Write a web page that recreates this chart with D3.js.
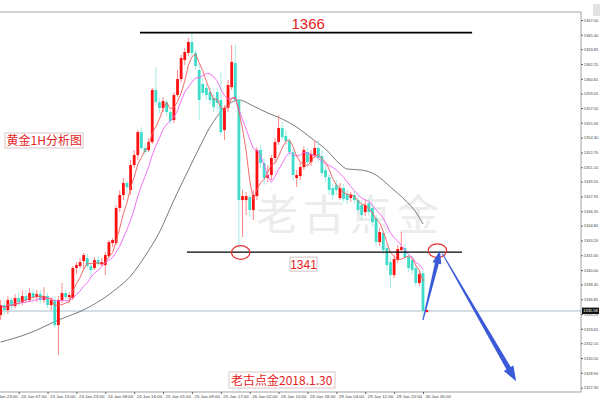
<!DOCTYPE html>
<html>
<head>
<meta charset="utf-8">
<script src="https://cdn.jsdelivr.net/npm/d3@7"></script>
<style>
  body { margin: 0; background: #fff; }
  svg { display: block; }
  .tick text { font-family: "Liberation Sans", Arial, sans-serif; }
</style>
</head>
<body>
<svg id="chart"></svg>
<script>
// gold 1H candles, bar index 0..117
const opens = [
  1335.14,1336.22,1335.68,1336.76,1336.11,1336.98,1336.54,1337.19,1336.76,1337.52,
  1337.08,1337.41,1336.76,1337.19,1336.22,1336.76,1334.06,1336.76,1337.52,1337.08,
  1336.98,1340.22,1340.43,1340.97,1341.30,1340.43,1340.22,1341.08,1340.65,1340.54,
  1341.51,1342.92,1342.92,1346.70,1348.10,1349.40,1348.64,1351.34,1352.42,1354.90,
  1353.18,1352.96,1353.82,1359.44,1358.14,1357.50,1358.14,1357.06,1356.20,1358.90,
  1360.63,1362.68,1363.44,1364.62,1363.44,1361.60,1360.09,1359.66,1359.22,1358.58,
  1359.22,1358.36,1355.12,1357.50,1359.76,1362.36,1358.36,1347.56,1347.56,1347.88,
  1346.48,1347.99,1352.96,1351.56,1349.94,1350.26,1352.10,1353.82,1355.34,1354.47,
  1353.93,1352.74,1349.94,1350.15,1351.12,1352.74,1351.66,1352.42,1353.18,1352.31,
  1350.80,1350.04,1348.86,1349.18,1347.78,1348.86,1348.21,1347.78,1348.10,1347.56,
  1347.02,1346.26,1347.24,1346.70,1345.62,1343.02,1344.00,1342.38,1340.86,1339.46,
  1341.08,1342.16,1342.38,1341.40,1341.08,1340.22,1338.60,1339.68
];
const highs = [
  1336.76,1336.76,1337.19,1337.08,1337.41,1337.62,1337.84,1337.84,1338.06,1337.95,
  1337.84,1337.84,1338.16,1337.52,1337.08,1337.08,1337.19,1338.60,1337.84,1337.62,
  1340.43,1340.86,1341.30,1341.84,1341.73,1340.86,1341.40,1341.51,1341.30,1341.94,
  1343.25,1343.46,1347.02,1348.64,1349.94,1349.72,1351.88,1352.96,1355.12,1355.44,
  1353.61,1354.26,1359.66,1361.92,1358.58,1358.68,1358.47,1357.28,1359.22,1361.60,
  1363.22,1363.98,1365.06,1365.70,1363.76,1362.25,1360.74,1360.09,1359.66,1359.01,
  1359.66,1361.38,1357.82,1360.52,1364.30,1364.30,1358.58,1348.64,1348.42,1348.10,
  1348.64,1353.28,1353.50,1352.10,1351.34,1352.42,1354.26,1356.74,1355.98,1355.12,
  1354.26,1353.18,1350.80,1351.56,1353.39,1353.18,1352.96,1354.04,1354.04,1352.96,
  1351.34,1350.37,1349.29,1349.72,1349.40,1349.29,1348.64,1348.42,1348.53,1347.99,
  1347.56,1347.56,1347.78,1347.02,1345.94,1344.54,1344.32,1342.81,1341.30,1341.62,
  1342.70,1344.10,1342.81,1341.73,1341.51,1340.54,1340.00,1340.00
];
const lows = [
  1334.60,1335.14,1335.25,1335.68,1335.90,1336.11,1336.22,1336.44,1336.54,1336.76,
  1336.54,1336.33,1336.44,1335.90,1335.68,1333.74,1330.82,1336.44,1336.76,1336.54,
  1336.76,1339.57,1340.22,1340.00,1340.22,1339.24,1340.00,1340.43,1340.43,1339.46,
  1341.30,1342.48,1342.70,1346.26,1347.56,1348.42,1348.10,1351.02,1351.88,1352.96,
  1352.42,1352.74,1353.61,1357.82,1356.96,1357.06,1356.63,1355.77,1355.88,1358.68,
  1360.30,1362.14,1363.11,1363.11,1361.60,1356.20,1358.79,1358.36,1357.93,1357.06,
  1357.28,1354.58,1354.04,1357.06,1359.44,1358.14,1342.38,1343.56,1345.94,1345.72,
  1345.40,1347.56,1351.02,1349.18,1349.50,1349.72,1351.66,1353.50,1354.04,1353.50,
  1352.31,1349.72,1348.96,1349.72,1350.80,1351.34,1351.23,1352.10,1351.66,1350.15,
  1349.50,1348.10,1347.56,1348.10,1347.56,1347.34,1347.13,1347.34,1347.13,1346.05,
  1345.40,1345.83,1345.83,1344.75,1342.59,1342.59,1341.73,1340.00,1338.06,1339.14,
  1340.76,1341.84,1341.08,1339.78,1339.57,1338.27,1338.27,1334.60
];
const closes = [
  1336.22,1335.68,1336.76,1336.11,1336.98,1336.54,1337.19,1336.76,1337.52,1337.08,
  1337.41,1336.76,1337.19,1336.22,1336.76,1334.06,1336.76,1337.52,1337.08,1337.30,
  1340.22,1340.54,1340.86,1341.62,1340.43,1340.00,1341.08,1340.65,1340.86,1341.62,
  1343.02,1343.24,1346.70,1348.10,1349.40,1348.96,1351.34,1352.42,1354.90,1353.18,
  1352.74,1353.82,1359.44,1358.14,1357.50,1358.25,1357.06,1356.09,1358.90,1360.63,
  1362.90,1363.54,1364.62,1363.44,1362.03,1358.36,1359.12,1358.90,1358.36,1357.60,
  1358.04,1354.90,1357.50,1359.98,1362.46,1358.36,1347.56,1347.99,1347.99,1346.48,
  1348.10,1352.96,1351.56,1349.94,1350.26,1352.10,1353.82,1355.34,1354.36,1353.93,
  1352.74,1350.26,1350.26,1351.12,1352.96,1351.66,1352.53,1353.18,1352.10,1350.48,
  1350.04,1348.64,1348.10,1348.64,1348.86,1347.67,1347.56,1348.10,1347.56,1346.48,
  1345.94,1347.02,1346.26,1345.18,1343.02,1344.10,1342.16,1340.54,1339.46,1341.19,
  1342.27,1342.48,1341.40,1340.22,1340.00,1338.60,1339.57,1335.57
];

// slow moving average (dark line), read at some bars
const slowIdx = [0,8,16,24,32,36,40,44,48,52,55,58,62,66,70,74,78,82,86,90,94,96,100,104,108,112,115,117];
const slowVal = [1332.22,1333.20,1334.60,1335.90,1337.95,1339.35,1341.51,1344.10,1347.56,1350.80,1353.18,1355.44,
  1357.50,1358.36,1357.71,1356.96,1356.31,1355.44,1354.26,1353.07,1351.45,1350.91,1350.80,1350.26,1348.96,
  1347.56,1346.26,1344.97];

// right axis labels
const priceTicks = [1367.00,1365.40,1363.85,1362.25,1360.65,1359.05,1357.50,1355.90,1354.30,1352.70,
  1351.10,1349.55,1347.95,1346.35,1344.80,1343.20,1341.60,1340.00,1338.45,1336.85,1335.25,1333.65,
  1332.10,1330.50,1328.90,1327.30];

// time axis labels
const timeIdx = [-3,5,13,21,29,37,45,53,61,69,77,85,93,101,109,117];
const timeLabels = ["22 Jan 23:00","23 Jan 07:00","23 Jan 15:00","23 Jan 23:00","24 Jan 08:00","24 Jan 16:00",
  "25 Jan 01:00","25 Jan 09:00","25 Jan 17:00","26 Jan 02:00","26 Jan 10:00","26 Jan 18:00",
  "29 Jan 04:00","29 Jan 12:00","29 Jan 20:00","30 Jan 05:00"];

const lastPrice = 1335.58;

// drawn levels
const levelNames = ["1366", "1341"];
const levelPrices = [1365.63, 1341.94];
const levelFrom = [38.6, 51.6];
const levelTo = [130.6, 127.8];

const width = 600, height = 398;
const plotRight = 581, plotTop = 12, plotBottom = 392;

const svg = d3.select("#chart")
    .attr("width", width)
    .attr("height", height);

const x = d3.scaleLinear().domain([0, 117]).range([0.63, 423]);
const y = d3.scaleLinear().domain([1327.30, 1367.00]).range([387.7, 20]);

svg.append("defs").append("clipPath").attr("id", "plot")
    .append("rect").attr("x", 0).attr("y", plotTop)
    .attr("width", plotRight).attr("height", plotBottom - plotTop);

// watermark
svg.append("text")
    .attr("x", 256).attr("y", 230)
    .attr("font-family", "Noto Sans CJK SC")
    .attr("font-size", 42)
    .attr("letter-spacing", 5)
    .attr("fill", "#ececec")
    .text("老古点金");

const g = svg.append("g").attr("clip-path", "url(#plot)");

// last price line
g.append("line")
    .attr("x1", 0).attr("x2", plotRight)
    .attr("y1", y(lastPrice)).attr("y2", y(lastPrice))
    .attr("stroke", "#a9b9c9").attr("stroke-width", 1);

// moving averages
const sma = (arr, n) => arr.map((_, i) => d3.mean(arr.slice(Math.max(0, i - n + 1), i + 1)));
const ma5 = sma(closes, 5);
const ma10 = sma(closes, 10);

const line = d3.line().x((d, i) => x(i)).y(d => y(d));

g.append("path").datum(d3.zip(slowIdx, slowVal))
    .attr("fill", "none").attr("stroke", "#6a6a6a").attr("stroke-width", 0.9)
    .attr("d", d3.line().x(d => x(d[0])).y(d => y(d[1])).curve(d3.curveMonotoneX));

// candles
const bars = d3.range(opens.length);
const upCol = "#ff1010", dnCol = "#3fdcca";

g.selectAll(".wick").data(bars).enter().append("line")
    .attr("class", "wick")
    .attr("x1", i => x(i)).attr("x2", i => x(i))
    .attr("y1", i => y(highs[i])).attr("y2", i => y(lows[i]))
    .attr("stroke", i => closes[i] >= opens[i] ? "#ff7a7a" : "#9debe2")
    .attr("stroke-width", 0.9);

g.selectAll(".body").data(bars).enter().append("rect")
    .attr("class", "body")
    .attr("x", i => x(i) - 1.4)
    .attr("width", 2.8)
    .attr("y", i => y(Math.max(opens[i], closes[i])))
    .attr("height", i => Math.max(0.8, Math.abs(y(opens[i]) - y(closes[i]))))
    .attr("fill", i => closes[i] >= opens[i] ? upCol : dnCol);

g.append("path").datum(ma10)
    .attr("fill", "none").attr("stroke", "#f060f0").attr("stroke-width", 0.9)
    .attr("d", line);
g.append("path").datum(ma5)
    .attr("fill", "none").attr("stroke", "#f25a5a").attr("stroke-width", 0.9)
    .attr("d", line);

// current bid mark
g.append("rect")
    .attr("x", x(118.1) - 1).attr("y", y(lastPrice) - 1)
    .attr("width", 2.2).attr("height", 2.2).attr("fill", "#ff0000");

// frame
svg.append("path")
    .attr("d", `M0,${plotTop}H${plotRight}V${plotBottom}H0`)
    .attr("fill", "none").attr("stroke", "#8a8a8a").attr("stroke-width", 0.8);
svg.append("rect").attr("x", 593).attr("y", 4).attr("width", 7).attr("height", 12).attr("fill", "#e2e2e2");

// right axis
const yAxis = svg.append("g")
    .attr("transform", `translate(${plotRight},0)`)
    .call(d3.axisRight(y).tickValues(priceTicks).tickFormat(d3.format(".2f")).tickSize(2).tickPadding(0.8));
yAxis.select(".domain").remove();
yAxis.selectAll(".tick line").attr("stroke", "#666");
yAxis.selectAll(".tick text").attr("font-size", 4).attr("fill", "#444");

// last price box
svg.append("rect")
    .attr("x", plotRight + 1).attr("y", y(lastPrice) - 3.4)
    .attr("width", 17).attr("height", 6.4).attr("fill", "#111");
svg.append("text")
    .attr("x", plotRight + 2.2).attr("y", y(lastPrice) + 1.4)
    .attr("font-family", "Liberation Sans, Arial, sans-serif")
    .attr("font-size", 4).attr("fill", "#fff")
    .text(lastPrice.toFixed(2));

// time axis
const xAxis = svg.append("g")
    .attr("transform", `translate(0,${plotBottom})`)
    .call(d3.axisBottom(x).tickValues(timeIdx).tickFormat((d, i) => timeLabels[i]).tickSize(2).tickPadding(1));
xAxis.select(".domain").remove();
xAxis.selectAll(".tick line").attr("stroke", "#666");
xAxis.selectAll(".tick text")
    .attr("text-anchor", "start").attr("dx", 2)
    .attr("font-size", 4.4).attr("fill", "#444");

// levels
const ann = svg.append("g");
levelNames.forEach((name, k) => {
  ann.append("line")
      .attr("x1", x(levelFrom[k])).attr("x2", x(levelTo[k]))
      .attr("y1", y(levelPrices[k])).attr("y2", y(levelPrices[k]))
      .attr("stroke", "#000").attr("stroke-width", k === 0 ? 1.8 : 1.3);
});

ann.append("text")
    .attr("x", x(85.2)).attr("y", y(levelPrices[0]) - 3.5)
    .attr("text-anchor", "middle")
    .attr("font-family", "Liberation Sans, Arial, sans-serif")
    .attr("font-size", 15).attr("fill", "#e51c1c")
    .text(levelNames[0]);

const box1341 = ann.append("g").attr("transform", `translate(${x(83.9)},${y(levelPrices[1]) + 17})`);
box1341.append("rect").attr("x", -13.5).attr("y", -12).attr("width", 27).attr("height", 14)
    .attr("fill", "#fff").attr("stroke", "#c4b2b2").attr("stroke-width", 0.8);
box1341.append("text").attr("text-anchor", "middle").attr("y", -0.5)
    .attr("font-family", "Liberation Sans, Arial, sans-serif")
    .attr("font-size", 12).attr("fill", "#e51c1c").text(levelNames[1]);

// circles on the support touches
const ringIdx = [66.5, 121.0];
const ringPrice = [1341.90, 1342.10];
ringIdx.forEach((i, k) => {
  ann.append("ellipse")
      .attr("cx", x(i)).attr("cy", y(ringPrice[k]))
      .attr("rx", 9.2).attr("ry", 6.8)
      .attr("fill", "none").attr("stroke", "#e83030").attr("stroke-width", 1.2);
});

// blue arrows: up to the ring, then down
function arrow(x1, y1, x2, y2, w0, w1, headLen, headW) {
  const dx = x2 - x1, dy = y2 - y1, len = Math.hypot(dx, dy);
  const ux = dx / len, uy = dy / len, nx = -uy, ny = ux;
  const bx = x2 - ux * headLen, by = y2 - uy * headLen;
  const pts = [
    [x1 + nx * w0 / 2, y1 + ny * w0 / 2],
    [bx + nx * w1 / 2, by + ny * w1 / 2],
    [bx + nx * headW / 2, by + ny * headW / 2],
    [x2, y2],
    [bx - nx * headW / 2, by - ny * headW / 2],
    [bx - nx * w1 / 2, by - ny * w1 / 2],
    [x1 - nx * w0 / 2, y1 - ny * w0 / 2]
  ];
  return "M" + pts.map(p => p.join(",")).join("L") + "Z";
}
const arrowIdx = [117.0, 121.7, 122.4, 142.8];
const arrowPrice = [1334.60, 1342.10, 1341.75, 1328.00];
ann.append("path")
    .attr("d", arrow(x(arrowIdx[0]), y(arrowPrice[0]), x(arrowIdx[1]), y(arrowPrice[1]), 1, 4, 13, 9))
    .attr("fill", "#3a5ad8");
ann.append("path")
    .attr("d", arrow(x(arrowIdx[2]), y(arrowPrice[2]), x(arrowIdx[3]), y(arrowPrice[3]), 1, 5, 15, 11))
    .attr("fill", "#3a5ad8");

// title boxes
const t1 = ann.append("g").attr("transform", "translate(5,133)");
t1.append("rect").attr("width", 78).attr("height", 15)
    .attr("fill", "#fff").attr("stroke", "#cdb7b7").attr("stroke-width", 0.8);
t1.append("text").attr("x", 1.5).attr("y", 12.3)
    .attr("font-family", "Noto Sans CJK SC").attr("font-size", 12).attr("fill", "#e51c1c")
    .text("黄金1H分析图");

const t2 = ann.append("g").attr("transform", "translate(229,372)");
t2.append("rect").attr("width", 106).attr("height", 16)
    .attr("fill", "#fff").attr("stroke", "#cdb7b7").attr("stroke-width", 0.8);
t2.append("text").attr("x", 2).attr("y", 13)
    .attr("font-family", "Noto Sans CJK SC").attr("font-size", 12).attr("fill", "#e51c1c")
    .text("老古点金2018.1.30");
</script>
</body>
</html>
